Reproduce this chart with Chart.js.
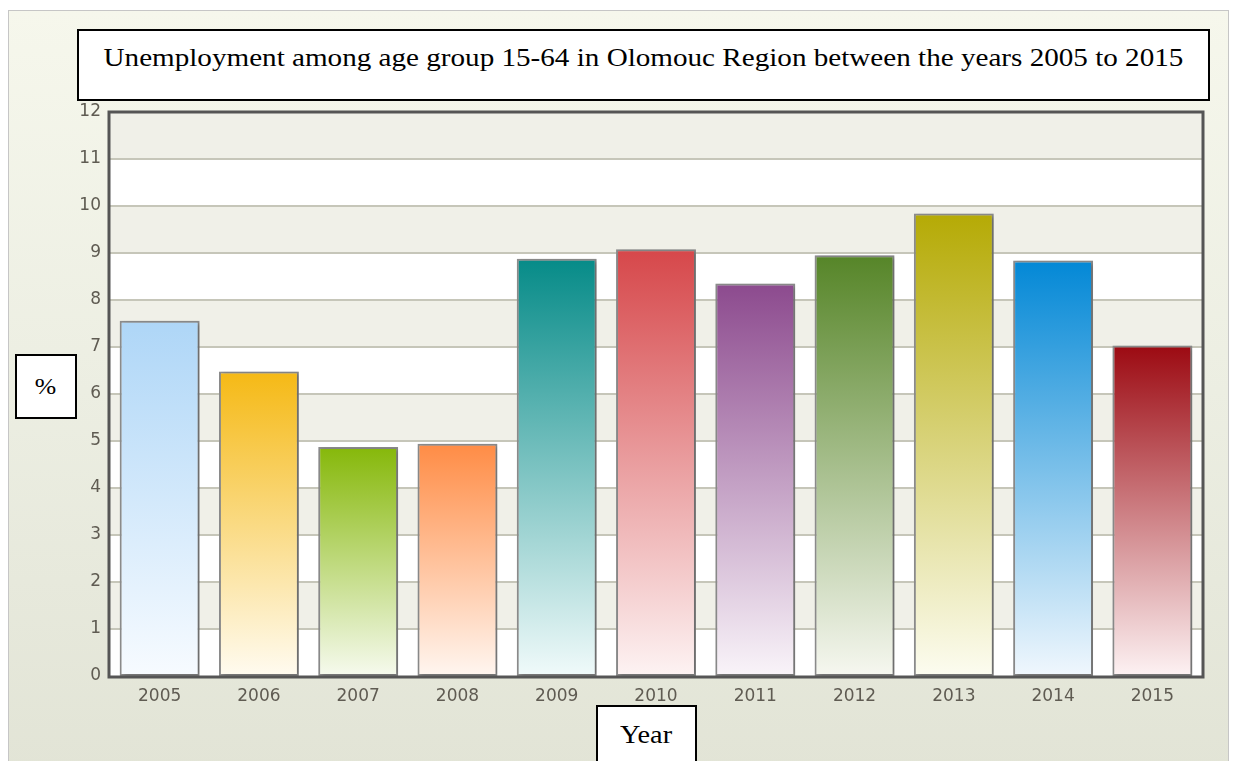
<!DOCTYPE html>
<html>
<head>
<meta charset="utf-8">
<script src="https://cdn.jsdelivr.net/npm/chart.js@4/dist/chart.umd.min.js"></script>
<style>
  html, body { margin: 0; padding: 0; background: #ffffff; }
  #wrap { position: relative; width: 1235px; height: 761px; overflow: hidden; background: #ffffff; }
  #panel { position: absolute; left: 8px; top: 10px; width: 1219px; height: 760px;
           border: 1px solid #c6c6c6; border-bottom: none;
           background: linear-gradient(to bottom, #f6f7ec 0%, #eceee2 50%, #e2e4d6 100%); }
  canvas { position: absolute; left: 0; top: 0; }
  .box { position: absolute; background: #ffffff; border: 2px solid #000000; box-sizing: border-box;
         font-family: "Liberation Serif", "Times New Roman", serif; color: #000; text-align: center; }
  .box span { display: inline-block; transform-origin: center; }
  #title { left: 77px; top: 29px; width: 1133px; height: 72px; font-size: 25px; line-height: 25px; padding-top: 14px; }
  #title span { transform: scaleX(1.165); }
  #ylab { left: 15px; top: 354px; width: 62px; height: 65px; font-size: 23px; line-height: 61px; }
  #ylab span { transform: scaleX(1.12); }
  #xlab { left: 596px; top: 705px; width: 101px; height: 70px; font-size: 25px; line-height: 25px; padding-top: 15px; }
  #xlab span { transform: scaleX(1.13); }
</style>
</head>
<body>
<div id="wrap">
  <div id="panel"></div>
  <canvas id="c" width="1235" height="761"></canvas>
  <div class="box" id="title"><span>Unemployment among age group 15-64 in Olomouc Region between the years 2005 to 2015</span></div>
  <div class="box" id="ylab"><span>%</span></div>
  <div class="box" id="xlab"><span>Year</span></div>
</div>
<script>
const years = ["2005","2006","2007","2008","2009","2010","2011","2012","2013","2014","2015"];
const unemployment = [7.56, 6.48, 4.87, 4.94, 8.88, 9.08, 8.35, 8.95, 9.84, 8.84, 7.03];
const topColors = ["#aed6f7","#f5b915","#86b80a","#ff8c45","#068b88","#d6474a","#8c4a8e","#568528","#b5aa05","#0388d6","#9c0a12"];
const bottomColors = ["#f7fbff","#fffbf0","#f6faee","#fff6f0","#f0fafa","#fdf3f3","#f9f4f9","#f6f7f0","#fcfcf0","#f0f7fd","#fdf2f3"];
const yTicks = [0,1,2,3,4,5,6,7,8,9,10,11,12];

const bandsPlugin = {
  id: 'bands',
  beforeDatasetsDraw(chart) {
    const {ctx, chartArea: a, scales: {y}} = chart;
    ctx.save();
    for (let i = 0; i < yTicks.length - 1; i++) {
      const y0 = y.getPixelForValue(yTicks[i]);
      const y1 = y.getPixelForValue(yTicks[i + 1]);
      ctx.fillStyle = (i % 2 === 0) ? '#ffffff' : '#f0f0e8';
      ctx.fillRect(a.left, y1, a.right - a.left, y0 - y1);
    }
    ctx.strokeStyle = '#c6c6b9';
    ctx.lineWidth = 2;
    for (let i = 1; i < yTicks.length - 1; i++) {
      const yy = Math.round(y.getPixelForValue(yTicks[i]));
      ctx.beginPath();
      ctx.moveTo(a.left, yy);
      ctx.lineTo(a.right, yy);
      ctx.stroke();
    }
    ctx.shadowColor = 'rgba(0,0,0,0.28)';
    ctx.shadowBlur = 4;
    ctx.shadowOffsetX = 2;
    ctx.shadowOffsetY = 1;
  },
  afterDatasetsDraw(chart) {
    const {ctx, chartArea: a} = chart;
    ctx.restore();
    ctx.save();
    ctx.strokeStyle = '#555555';
    ctx.lineWidth = 3;
    ctx.strokeRect(a.left - 1, a.top, a.right - a.left + 2, a.bottom - a.top + 1);
    ctx.restore();
  }
};

new Chart(document.getElementById('c'), {
  type: 'bar',
  data: {
    labels: years,
    datasets: [{
      data: unemployment,
      backgroundColor: (c) => {
        const ch = c.chart;
        const i = c.dataIndex;
        if (!ch.chartArea || i === undefined) return topColors[i || 0];
        const ys = ch.scales.y;
        const yt = ys.getPixelForValue(unemployment[i]);
        const yb = ys.getPixelForValue(0);
        const g = ch.ctx.createLinearGradient(0, yt, 0, yb);
        g.addColorStop(0, topColors[i]);
        g.addColorStop(1, bottomColors[i]);
        return g;
      },
      borderColor: '#8c8c8c',
      borderWidth: 2,
      borderSkipped: false,
      barPercentage: 0.805,
      categoryPercentage: 1.0
    }]
  },
  options: {
    responsive: false,
    animation: false,
    layout: { padding: { top: 112, right: 33, left: 0, bottom: 0 } },
    plugins: { legend: { display: false }, tooltip: { enabled: false }, title: { display: false } },
    scales: {
      x: {
        grid: { display: false, drawTicks: false },
        border: { display: false },
        ticks: { color: '#5f5b52', font: { family: 'DejaVu Sans', size: 17 }, padding: 10 },
        afterFit: (s) => { s.height = 85; }
      },
      y: {
        min: 0, max: 12,
        grid: { display: false, drawTicks: false },
        border: { display: false },
        ticks: { stepSize: 1, color: '#5f5b52', font: { family: 'DejaVu Sans', size: 17 }, padding: 9 },
        afterFit: (s) => { s.width = 110; }
      }
    }
  },
  plugins: [bandsPlugin]
});
</script>
</body>
</html>
